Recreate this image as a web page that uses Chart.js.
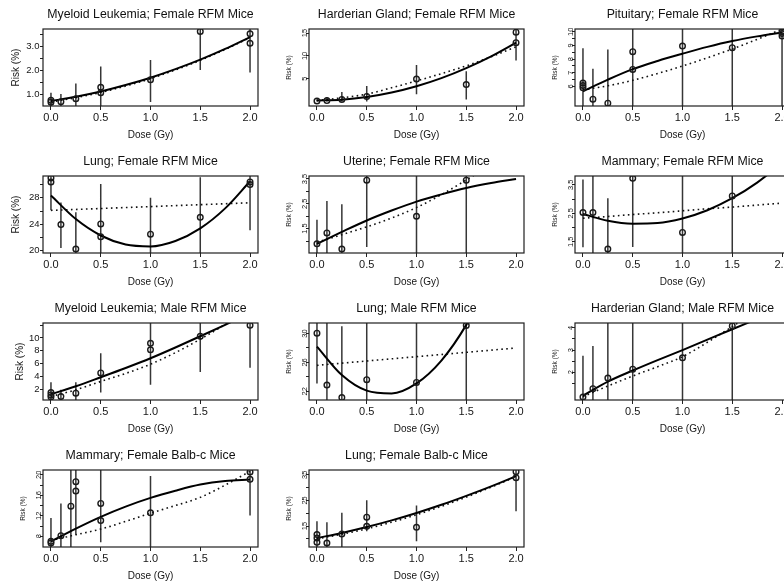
<!DOCTYPE html>
<html>
<head>
<meta charset="utf-8">
<script src="https://cdn.jsdelivr.net/npm/chart.js@4.4.1/dist/chart.umd.min.js"></script>
<style>
  html, body { margin: 0; padding: 0; background: #fff; overflow: hidden; }
  #grid { position: relative; width: 784px; height: 583px; overflow: hidden; background: #fff; }
  #grid canvas { position: absolute; }
</style>
</head>
<body>
<div id="grid"></div>
<script>
// Dose grid used by every fitted curve, and the shared dose axis
const curveDose = [0, 0.25, 0.5, 0.75, 1, 1.25, 1.5, 1.75, 2];
const doseTicks = [0, 0.5, 1, 1.5, 2];
const doseLabels = ['0.0', '0.5', '1.0', '1.5', '2.0'];

const titles = [
  'Myeloid Leukemia; Female RFM Mice',
  'Harderian Gland; Female RFM Mice',
  'Pituitary; Female RFM Mice',
  'Lung; Female RFM Mice',
  'Uterine; Female RFM Mice',
  'Mammary; Female RFM Mice',
  'Myeloid Leukemia; Male RFM Mice',
  'Lung; Male RFM Mice',
  'Harderian Gland; Male RFM Mice',
  'Mammary; Female Balb-c Mice',
  'Lung; Female Balb-c Mice'
];

// 1. Myeloid leukemia, female RFM
const p1ObsDose = [0, 0, 0.1, 0.25, 0.5, 0.5, 1.0, 1.5, 2.0, 2.0];
const p1ObsRisk = [0.75, 0.67, 0.69, 0.82, 1.30, 1.07, 1.61, 3.65, 3.55, 3.15];
const p1BarDose = [0, 0.1, 0.25, 0.5, 1.0, 1.5, 2.0];
const p1BarLow  = [0.3, 0.3, 0.3, 0.3, 0.68, 2.03, 1.92];
const p1BarHigh = [1.07, 1.02, 1.46, 2.17, 2.45, 4.5, 4.5];
const p1Fit = [0.72, 0.90, 1.12, 1.39, 1.70, 2.06, 2.46, 2.91, 3.41];
const p1Alt = [0.68, 0.86, 1.08, 1.35, 1.66, 2.03, 2.43, 2.89, 3.39];
const p1YRange = [0.51, 3.75];
const p1YTicks = [1, 1.5, 2, 2.5, 3, 3.5];
const p1YLabels = ['1.0', '', '2.0', '', '3.0', ''];

// 2. Harderian gland, female RFM
const p2ObsDose = [0, 0.1, 0.25, 0.5, 1.0, 1.5, 2.0, 2.0];
const p2ObsRisk = [0.1, 0.2, 0.45, 1.1, 4.9, 3.7, 15.2, 12.9];
const p2BarDose = [0, 0.1, 0.25, 0.5, 1.0, 1.5, 2.0];
const p2BarLow  = [0, 0, 0, 0, 1.6, 0.4, 9.0];
const p2BarHigh = [0.5, 0.9, 2.1, 3.4, 8.0, 6.6, 17];
const p2Fit = [0.2, 0.39, 0.98, 1.97, 3.35, 5.13, 7.33, 9.91, 12.9];
const p2Alt = [0.2, 0.8, 1.6, 3.0, 4.5, 6.1, 7.8, 9.8, 12.0];
const p2YRange = [-1.0, 15.9];
const p2YTicks = [5, 10, 15];
const p2YLabels = ['5', '10', '15'];

// 3. Pituitary, female RFM
const p3ObsDose = [0, 0, 0, 0.1, 0.25, 0.5, 0.5, 1.0, 1.5, 2.0, 2.0, 2.0];
const p3ObsRisk = [6.25, 6.07, 5.9, 5.07, 4.78, 8.55, 7.25, 8.96, 8.84, 10.0, 9.88, 9.7];
const p3BarDose = [0, 0.1, 0.25, 0.5, 1.0, 1.5, 2.0];
const p3BarLow  = [3, 3, 3, 3, 3, 3, 3];
const p3BarHigh = [8.8, 7.3, 8.7, 12, 12, 12, 12];
const p3Fit = [5.65, 6.5, 7.27, 7.87, 8.40, 8.9, 9.33, 9.67, 9.96];
const p3Alt = [5.75, 6.05, 6.45, 6.95, 7.5, 8.1, 8.75, 9.45, 10.2];
const p3YRange = [4.57, 10.21];
const p3YTicks = [6, 6.5, 7, 7.5, 8, 8.5, 9, 9.5, 10];
const p3YLabels = ['6', '', '7', '', '8', '', '9', '', '10'];

// 4. Lung, female RFM
const p4ObsDose = [0, 0, 0.1, 0.25, 0.5, 0.5, 1.0, 1.5, 2.0, 2.0];
const p4ObsRisk = [31.0, 30.4, 23.95, 20.25, 24.05, 22.1, 22.5, 25.05, 30.4, 30.0];
const p4BarDose = [0, 0.1, 0.25, 0.5, 1.0, 1.5, 2.0];
const p4BarLow  = [26.1, 20.4, 18, 18, 18, 18, 23.1];
const p4BarHigh = [33, 27.3, 25.8, 30.1, 28.0, 31.1, 33];
const p4Fit = [28.35, 24.78, 22.3, 20.93, 20.65, 21.47, 23.38, 26.40, 30.5];
const p4Alt = [26.10, 26.24, 26.38, 26.53, 26.67, 26.82, 26.96, 27.10, 27.25];
const p4YRange = [19.65, 31.3];
const p4YTicks = [20, 22, 24, 26, 28, 30];
const p4YLabels = ['20', '', '24', '', '28', ''];

// 5. Uterine, female RFM
const p5ObsDose = [0, 0.1, 0.25, 0.5, 1.0, 1.5];
const p5ObsRisk = [0.89, 1.33, 0.68, 3.45, 2.0, 3.45];
const p5BarDose = [0, 0.1, 0.25, 0.5, 1.0, 1.5];
const p5BarLow  = [0, 0, 0, 0.76, 0, 0];
const p5BarHigh = [1.86, 2.61, 2.48, 5, 5, 5];
const p5Fit = [0.89, 1.37, 1.83, 2.23, 2.59, 2.88, 3.14, 3.34, 3.50];
const p5Alt = [0.95, 1.26, 1.57, 1.93, 2.35, 2.87, 3.46, 4.1, 4.8];
const p5YRange = [0.52, 3.62];
const p5YTicks = [1, 1.5, 2, 2.5, 3, 3.5];
const p5YLabels = ['', '1.5', '', '2.5', '', '3.5'];

// 6. Mammary, female RFM
const p6ObsDose = [0, 0.1, 0.25, 0.5, 1.0, 1.5];
const p6ObsRisk = [2.53, 2.53, 1.25, 3.73, 1.83, 3.11];
const p6BarDose = [0, 0.1, 0.25, 0.5, 1.0, 1.5];
const p6BarLow  = [1.31, 0, 0, 1.32, 0, 0];
const p6BarHigh = [3.69, 5, 3.03, 5, 5, 5];
const p6Fit = [2.48, 2.24, 2.14, 2.16, 2.32, 2.61, 3.03, 3.58, 4.26];
const p6Alt = [2.33, 2.39, 2.46, 2.52, 2.59, 2.66, 2.72, 2.79, 2.86];
const p6YRange = [1.11, 3.81];
const p6YTicks = [1.5, 2, 2.5, 3, 3.5];
const p6YLabels = ['1.5', '', '2.5', '', '3.5'];

// 7. Myeloid leukemia, male RFM
const p7ObsDose = [0, 0, 0, 0.1, 0.25, 0.5, 1.0, 1.0, 1.5, 2.0];
const p7ObsRisk = [1.47, 1.1, 0.79, 0.84, 1.37, 4.54, 9.15, 8.15, 10.26, 11.96];
const p7BarDose = [0, 0.1, 0.25, 0.5, 1.0, 1.5, 2.0];
const p7BarLow  = [0, 0, 0, 1.47, 2.68, 4.7, 5.33];
const p7BarHigh = [3.1, 1.9, 3.1, 7.6, 14, 14, 14];
const p7Fit = [1.2, 2.45, 3.86, 5.3, 6.82, 8.5, 10.26, 12.05, 13.9];
const p7Alt = [0.85, 1.9, 3.2, 4.45, 5.9, 7.7, 9.8, 12.1, 14.6];
const p7YRange = [0.31, 12.33];
const p7YTicks = [2, 4, 6, 8, 10, 12];
const p7YLabels = ['2', '4', '6', '8', '10', ''];

// 8. Lung, male RFM
const p8ObsDose = [0, 0.1, 0.25, 0.5, 1.0, 1.5];
const p8ObsRisk = [30.05, 22.87, 21.13, 23.62, 23.24, 31.13];
const p8BarDose = [0, 0.1, 0.25, 0.5, 1.0, 1.5];
const p8BarLow  = [23.1, 18, 18, 18, 18, 18];
const p8BarHigh = [34, 34, 31.0, 34, 34, 34];
const p8Fit = [28.2, 24.26, 22.1, 21.71, 23.1, 26.26, 31.2, 37.9, 46.4];
const p8Alt = [25.6, 25.9, 26.2, 26.5, 26.8, 27.1, 27.4, 27.7, 28.0];
const p8YRange = [20.8, 31.46];
const p8YTicks = [22, 24, 26, 28, 30];
const p8YLabels = ['22', '', '26', '', '30'];

// 9. Harderian gland, male RFM
const p9ObsDose = [0, 0.1, 0.25, 0.5, 1.0, 1.5];
const p9ObsRisk = [0.88, 1.26, 1.74, 2.14, 2.65, 4.09];
const p9BarDose = [0, 0.1, 0.25, 0.5, 1.0, 1.5];
const p9BarLow  = [0, 0, 0, 0, 0, 0];
const p9BarHigh = [2.74, 3.18, 5, 5, 5, 5];
const p9Fit = [0.95, 1.58, 2.08, 2.55, 3.0, 3.47, 3.94, 4.4, 4.87];
const p9Alt = [0.9, 1.38, 1.83, 2.25, 2.7, 3.35, 4.06, 4.8, 5.5];
const p9YRange = [0.75, 4.22];
const p9YTicks = [1.5, 2, 2.5, 3, 3.5, 4];
const p9YLabels = ['', '2', '', '3', '', '4'];

// 10. Mammary, female Balb-c
const p10ObsDose = [0, 0, 0.1, 0.2, 0.25, 0.25, 0.5, 0.5, 1.0, 2.0, 2.0];
const p10ObsRisk = [7.01, 6.68, 8.12, 13.88, 18.66, 16.83, 14.41, 11.07, 12.57, 20.56, 19.12];
const p10BarDose = [0, 0.1, 0.2, 0.25, 0.5, 1.0, 2.0];
const p10BarLow  = [4, 4, 4, 8.32, 6.81, 4, 12.05];
const p10BarHigh = [11.59, 14.41, 24, 24, 24, 19.77, 24];
const p10Fit = [7.0, 9.5, 11.8, 13.8, 15.5, 16.9, 18.1, 18.8, 19.1];
const p10Alt = [7.2, 8.3, 9.4, 10.9, 12.5, 14.0, 15.6, 18.0, 20.7];
const p10YRange = [5.9, 20.95];
const p10YTicks = [8, 10, 12, 14, 16, 18, 20];
const p10YLabels = ['8', '', '12', '', '16', '', '20'];

// 11. Lung, female Balb-c
const p11ObsDose = [0, 0, 0, 0.1, 0.25, 0.5, 0.5, 1.0, 2.0, 2.0];
const p11ObsRisk = [11.64, 10.33, 8.63, 8.37, 11.9, 18.44, 14.9, 14.5, 36.25, 33.9];
const p11BarDose = [0, 0.1, 0.25, 0.5, 1.0, 2.0];
const p11BarLow  = [5, 5, 5, 12.95, 9.02, 20.8];
const p11BarHigh = [16.87, 16.48, 20.15, 25.12, 23.03, 40];
const p11Fit = [10.3, 12.3, 14.6, 17.2, 20.1, 23.3, 26.8, 30.5, 34.5];
const p11Alt = [10.0, 11.8, 13.9, 16.5, 19.4, 22.7, 26.3, 30.2, 34.3];
const p11YRange = [6.8, 36.9];
const p11YTicks = [10, 15, 20, 25, 30, 35];
const p11YLabels = ['', '15', '', '25', '', '35'];

const panels = [
  { title: titles[0],  obsDose: p1ObsDose,  obsRisk: p1ObsRisk,  barDose: p1BarDose,  barLow: p1BarLow,  barHigh: p1BarHigh,  fit: p1Fit,  alt: p1Alt,  yRange: p1YRange,  yTicks: p1YTicks,  yLabels: p1YLabels },
  { title: titles[1],  obsDose: p2ObsDose,  obsRisk: p2ObsRisk,  barDose: p2BarDose,  barLow: p2BarLow,  barHigh: p2BarHigh,  fit: p2Fit,  alt: p2Alt,  yRange: p2YRange,  yTicks: p2YTicks,  yLabels: p2YLabels },
  { title: titles[2],  obsDose: p3ObsDose,  obsRisk: p3ObsRisk,  barDose: p3BarDose,  barLow: p3BarLow,  barHigh: p3BarHigh,  fit: p3Fit,  alt: p3Alt,  yRange: p3YRange,  yTicks: p3YTicks,  yLabels: p3YLabels },
  { title: titles[3],  obsDose: p4ObsDose,  obsRisk: p4ObsRisk,  barDose: p4BarDose,  barLow: p4BarLow,  barHigh: p4BarHigh,  fit: p4Fit,  alt: p4Alt,  yRange: p4YRange,  yTicks: p4YTicks,  yLabels: p4YLabels },
  { title: titles[4],  obsDose: p5ObsDose,  obsRisk: p5ObsRisk,  barDose: p5BarDose,  barLow: p5BarLow,  barHigh: p5BarHigh,  fit: p5Fit,  alt: p5Alt,  yRange: p5YRange,  yTicks: p5YTicks,  yLabels: p5YLabels },
  { title: titles[5],  obsDose: p6ObsDose,  obsRisk: p6ObsRisk,  barDose: p6BarDose,  barLow: p6BarLow,  barHigh: p6BarHigh,  fit: p6Fit,  alt: p6Alt,  yRange: p6YRange,  yTicks: p6YTicks,  yLabels: p6YLabels },
  { title: titles[6],  obsDose: p7ObsDose,  obsRisk: p7ObsRisk,  barDose: p7BarDose,  barLow: p7BarLow,  barHigh: p7BarHigh,  fit: p7Fit,  alt: p7Alt,  yRange: p7YRange,  yTicks: p7YTicks,  yLabels: p7YLabels },
  { title: titles[7],  obsDose: p8ObsDose,  obsRisk: p8ObsRisk,  barDose: p8BarDose,  barLow: p8BarLow,  barHigh: p8BarHigh,  fit: p8Fit,  alt: p8Alt,  yRange: p8YRange,  yTicks: p8YTicks,  yLabels: p8YLabels },
  { title: titles[8],  obsDose: p9ObsDose,  obsRisk: p9ObsRisk,  barDose: p9BarDose,  barLow: p9BarLow,  barHigh: p9BarHigh,  fit: p9Fit,  alt: p9Alt,  yRange: p9YRange,  yTicks: p9YTicks,  yLabels: p9YLabels },
  { title: titles[9],  obsDose: p10ObsDose, obsRisk: p10ObsRisk, barDose: p10BarDose, barLow: p10BarLow, barHigh: p10BarHigh, fit: p10Fit, alt: p10Alt, yRange: p10YRange, yTicks: p10YTicks, yLabels: p10YLabels },
  { title: titles[10], obsDose: p11ObsDose, obsRisk: p11ObsRisk, barDose: p11BarDose, barLow: p11BarLow, barHigh: p11BarHigh, fit: p11Fit, alt: p11Alt, yRange: p11YRange, yTicks: p11YTicks, yLabels: p11YLabels }
];

// ---- drawing ----
const FONT = "'Liberation Sans', Arial, Helvetica, sans-serif";
Chart.defaults.font.family = FONT;
Chart.defaults.color = '#151515';

// panels whose risk labels are written upright (the rest run along the axis)
const uprightPanels = [0, 3, 6];
const yTitleGap = [10.5, 0, 0, 10.0, 0, 0, 14.6, 0, 0, 0, 0];

const PANEL_W = 266, PANEL_H = 147;
const measureCtx = document.createElement('canvas').getContext('2d');
function widest(labels, size) {
  measureCtx.font = 'normal ' + size + 'px ' + FONT;
  return Math.max(0, ...labels.map(t => measureCtx.measureText(t).width));
}

const frame = {
  id: 'plotFrame',
  afterDraw(chart) {
    const { ctx, chartArea: a } = chart;
    ctx.save();
    ctx.strokeStyle = '#1e1e1e';
    ctx.lineWidth = 1.2;
    ctx.strokeRect(a.left, a.top, a.right - a.left, a.bottom - a.top);
    ctx.restore();
  }
};

function barSegments(dose, low, high) {
  const pts = [];
  dose.forEach((d, i) => {
    pts.push({ x: d, y: low[i] }, { x: d, y: high[i] }, { x: d, y: null });
  });
  return pts;
}

const grid = document.getElementById('grid');
panels.forEach((p, k) => {
  const canvas = document.createElement('canvas');
  canvas.width = PANEL_W; canvas.height = PANEL_H;
  canvas.style.width = PANEL_W + 'px'; canvas.style.height = PANEL_H + 'px';
  canvas.style.left = (k % 3) * PANEL_W + 'px';
  canvas.style.top = Math.floor(k / 3) * PANEL_H + 'px';
  grid.appendChild(canvas);

  const upright = uprightPanels.includes(k);
  const tickSize = upright ? 9.5 : 7.5;
  const tickPad = upright ? 0.5 : 1 - widest(p.yLabels, tickSize) / 2;

  new Chart(canvas, {
    type: 'line',
    data: {
      datasets: [
        {
          data: p.obsDose.map((d, i) => ({ x: d, y: p.obsRisk[i] })),
          showLine: false, pointStyle: 'circle', pointRadius: 2.8, pointBorderWidth: 1.4,
          pointBorderColor: '#1a1a1a', pointBackgroundColor: 'rgba(0,0,0,0)'
        },
        {
          data: curveDose.map((d, i) => ({ x: d, y: p.fit[i] })),
          borderColor: '#000', borderWidth: 2, pointRadius: 0, cubicInterpolationMode: 'monotone'
        },
        {
          data: curveDose.map((d, i) => ({ x: d, y: p.alt[i] })),
          borderColor: '#111', borderWidth: 1.6, borderDash: [1.6, 3.4], pointRadius: 0,
          cubicInterpolationMode: 'monotone'
        },
        {
          data: barSegments(p.barDose, p.barLow, p.barHigh),
          borderColor: '#363636', borderWidth: 1.5, pointRadius: 0, spanGaps: false, tension: 0
        }
      ]
    },
    options: {
      responsive: false, animation: false, devicePixelRatio: 1,
      layout: { padding: { left: 0, right: 8, top: 0, bottom: 0 } },
      plugins: {
        legend: { display: false },
        tooltip: { enabled: false },
        title: {
          display: true, text: p.title, fullSize: false, color: '#111',
          font: { size: 12.3, weight: 'normal', lineHeight: '15px' },
          padding: { top: 7, bottom: 7 }
        }
      },
      scales: {
        x: {
          type: 'linear', min: -0.08, max: 2.08,
          afterBuildTicks: s => { s.ticks = doseTicks.map(v => ({ value: v })); },
          ticks: { callback: (v, i) => doseLabels[i], autoSkip: false, maxRotation: 0,
                   font: { size: 11 }, color: '#151515', padding: 1.7 },
          grid: { drawOnChartArea: false, drawTicks: true, tickLength: 4, color: '#222' },
          border: { display: false },
          title: { display: true, text: 'Dose (Gy)', font: { size: 10 }, color: '#151515',
                   padding: { top: 0, bottom: 6 } },
          afterFit: s => { s.height = 41; }
        },
        y: {
          type: 'linear', min: p.yRange[0], max: p.yRange[1],
          afterBuildTicks: s => { s.ticks = p.yTicks.map(v => ({ value: v })); },
          ticks: {
            callback: (v, i) => p.yLabels[i], autoSkip: false,
            font: { size: tickSize }, color: '#151515',
            minRotation: upright ? 0 : 90, maxRotation: upright ? 0 : 90,
            crossAlign: upright ? 'near' : 'center', padding: tickPad
          },
          grid: { drawOnChartArea: false, drawTicks: true, tickLength: 3, color: '#222' },
          border: { display: false },
          title: {
            display: true, text: 'Risk (%)', color: '#151515',
            font: { size: upright ? 10 : 6.5 },
            padding: { top: upright ? yTitleGap[k] : 19.1, bottom: 0 }
          },
          afterFit: s => { s.width = 43; }
        }
      }
    },
    plugins: [frame]
  });
});
</script>
</body>
</html>
